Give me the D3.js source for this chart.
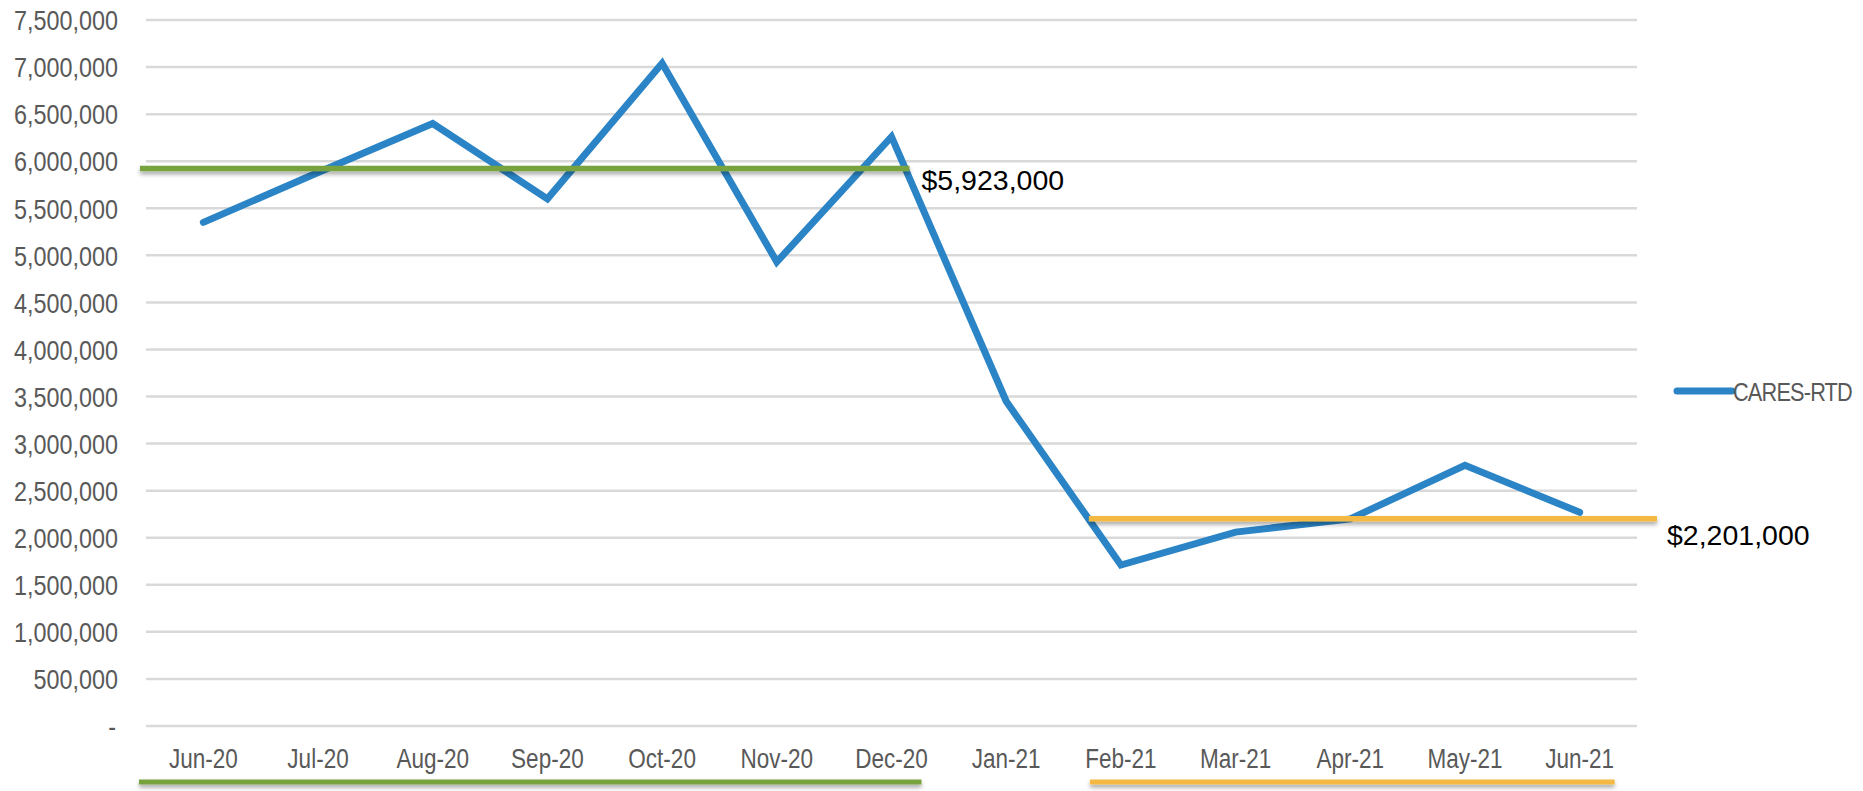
<!DOCTYPE html>
<html>
<head>
<meta charset="utf-8">
<script src="https://cdn.jsdelivr.net/npm/d3@7"></script>
<style>
  html, body { margin: 0; padding: 0; background: #fff; }
  svg { display: block; }
</style>
</head>
<body>
<div id="target"></div>
<script>
// data
const months = ["Jun-20","Jul-20","Aug-20","Sep-20","Oct-20","Nov-20","Dec-20","Jan-21","Feb-21","Mar-21","Apr-21","May-21","Jun-21"]
const cares = [5350000, 5880000, 6400000, 5600000, 7040000, 4930000, 6260000, 3450000, 1710000, 2060000, 2200000, 2770000, 2270000]
const yTicks = [0, 500000, 1000000, 1500000, 2000000, 2500000, 3000000, 3500000, 4000000, 4500000, 5000000, 5500000, 6000000, 6500000, 7000000, 7500000]
const seriesName = "CARES-RTD"
const averages = [
  { from: "Jun-20", to: "Dec-20", value: 5923000, label: "$5,923,000", color: "#77a23c" },
  { from: "Feb-21", to: "Jun-21", value: 2201000, label: "$2,201,000", color: "#f4b942" }
]

const width = 1863
const height = 791
const font = "'Liberation Sans', Arial, sans-serif"
const squeeze = 0.82 // narrow font look

const svg = d3.select("#target").append("svg")
    .attr("width", width)
    .attr("height", height)

//shadow filter (user space, so flat lines still render)
svg.append("defs").append("filter")
    .attr("id", "shadow")
    .attr("filterUnits", "userSpaceOnUse")
    .attr("x", 0).attr("y", 0)
    .attr("width", width).attr("height", height)
    .append("feDropShadow")
    .attr("dx", 0).attr("dy", 3)
    .attr("stdDeviation", 2)
    .attr("flood-color", "#000")
    .attr("flood-opacity", 0.35)

//Scales
const x = d3.scaleBand()
    .domain(months)
    .range([146, 1637])

const cx = d => x(d) + x.bandwidth() / 2
const lastMonth = months[months.length - 1]

const y = d3.scaleLinear()
    .domain([0, 7500000])
    .range([726, 20])

//Grid
svg.append("g")
    .selectAll("line")
    .data(yTicks)
    .enter()
    .append("line")
    .attr("x1", x.range()[0])
    .attr("x2", x.range()[1])
    .attr("y1", d => y(d))
    .attr("y2", d => y(d))
    .attr("stroke", "#d9d9d9")
    .attr("stroke-width", 2.5)

//Y labels
const fmt = d3.format(",")
svg.append("g")
    .selectAll("text")
    .data(yTicks)
    .enter()
    .append("text")
    .attr("transform", d => "translate(" + (d === 0 ? 116 : 118) + "," + y(d) + ") scale(" + squeeze + ",1)")
    .attr("dy", "0.36em")
    .attr("text-anchor", "end")
    .attr("font-family", font)
    .attr("font-size", 28.5)
    .attr("fill", "#595959")
    .text(d => d === 0 ? "-" : fmt(d))

//X labels
svg.append("g")
    .selectAll("text")
    .data(months)
    .enter()
    .append("text")
    .attr("transform", d => "translate(" + cx(d) + ",768) scale(" + squeeze + ",1)")
    .attr("text-anchor", "middle")
    .attr("font-family", font)
    .attr("font-size", 27.5)
    .attr("fill", "#595959")
    .text(d => d)

// average line spans
const avgX1 = a => a.from === months[0] ? x(a.from) - 6 : cx(a.from) - 32
const avgX2 = a => a.to === lastMonth ? x.range()[1] + 20 : cx(a.to) + 18
const underX1 = a => a.from === months[0] ? x(a.from) - 7 : cx(a.from) - 31
const underX2 = a => a.to === lastMonth ? cx(a.to) + 35 : cx(a.to) + 30

svg.append("g").attr("filter", "url(#shadow)")
    .selectAll("line")
    .data(averages)
    .enter()
    .append("line")
    .attr("x1", underX1)
    .attr("x2", underX2)
    .attr("y1", 782)
    .attr("y2", 782)
    .attr("stroke", d => d.color)
    .attr("stroke-width", 5)

//Line
const line = d3.line()
    .x((d, i) => cx(months[i]))
    .y(d => y(d))

svg.append("path")
    .attr("d", line(cares))
    .attr("fill", "none")
    .attr("stroke", "#2a84c6")
    .attr("stroke-width", 7)
    .attr("stroke-linejoin", "miter")
    .attr("stroke-linecap", "round")

svg.append("g").attr("filter", "url(#shadow)")
    .selectAll("line")
    .data(averages)
    .enter()
    .append("line")
    .attr("x1", avgX1)
    .attr("x2", avgX2)
    .attr("y1", d => y(d.value))
    .attr("y2", d => y(d.value))
    .attr("stroke", d => d.color)
    .attr("stroke-width", 5.5)

svg.append("g")
    .selectAll("text")
    .data(averages)
    .enter()
    .append("text")
    .attr("x", d => avgX2(d) + (d.to === lastMonth ? 10 : 12))
    .attr("y", d => y(d.value) + (d.to === lastMonth ? 26 : 22))
    .attr("font-family", font)
    .attr("font-size", 28.5)
    .attr("fill", "#000")
    .text(d => d.label)

//Legend
const legend = svg.append("g").attr("transform", "translate(1677,391)")
legend.append("line")
    .attr("x1", 0).attr("x2", 55)
    .attr("y1", 0).attr("y2", 0)
    .attr("stroke", "#2a84c6")
    .attr("stroke-width", 7)
    .attr("stroke-linecap", "round")
legend.append("text")
    .attr("transform", "translate(56,9.5) scale(" + squeeze + ",1)")
    .attr("font-family", font)
    .attr("font-size", 26.5)
    .attr("letter-spacing", -1)
    .attr("fill", "#595959")
    .text(seriesName)
</script>
</body>
</html>
